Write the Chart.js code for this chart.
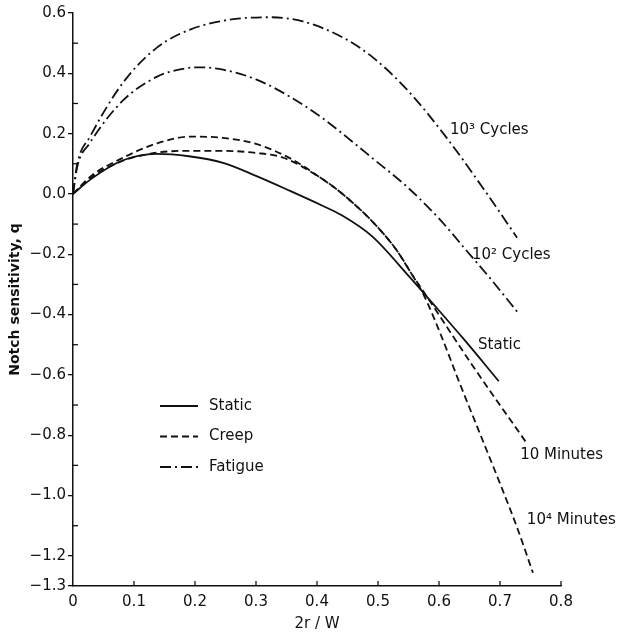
<!DOCTYPE html>
<html><head><meta charset="utf-8">
<script src="https://cdn.jsdelivr.net/npm/chart.js@4/dist/chart.umd.min.js"></script>
<style>html,body{margin:0;padding:0;background:#fff}</style>
</head><body>
<canvas id="c" width="619" height="636"></canvas>
<script>
// ---- data (x = 2r/W, y = notch sensitivity q) ----
const staticX  = [0, 0.03, 0.08, 0.137, 0.19, 0.246, 0.30, 0.356, 0.41, 0.44, 0.49, 0.552, 0.585, 0.64, 0.698];
const staticY  = [0, 0.05, 0.11, 0.133, 0.125, 0.103, 0.06, 0.01, -0.04, -0.07, -0.14, -0.276, -0.352, -0.48, -0.621];

const creep10X = [0, 0.03, 0.082, 0.138, 0.192, 0.246, 0.30, 0.345, 0.41, 0.44, 0.49, 0.53, 0.555, 0.58, 0.656, 0.744];
const creep10Y = [0, 0.055, 0.11, 0.137, 0.143, 0.143, 0.136, 0.12, 0.048, 0.003, -0.09, -0.185, -0.265, -0.34, -0.572, -0.827];

const creep1e4X = [0, 0.03, 0.082, 0.138, 0.192, 0.246, 0.30, 0.356, 0.41, 0.44, 0.49, 0.53, 0.555, 0.575, 0.602, 0.634, 0.667, 0.70, 0.728, 0.754];
const creep1e4Y = [0, 0.06, 0.12, 0.168, 0.19, 0.186, 0.166, 0.118, 0.048, 0.003, -0.09, -0.185, -0.265, -0.335, -0.462, -0.628, -0.794, -0.96, -1.106, -1.256];

const fat1e3X = [0, 0.007, 0.028, 0.082, 0.138, 0.192, 0.257, 0.323, 0.377, 0.443, 0.492, 0.548, 0.613, 0.672, 0.728];
const fat1e3Y = [0, 0.10, 0.19, 0.369, 0.486, 0.545, 0.578, 0.586, 0.572, 0.518, 0.452, 0.345, 0.185, 0.02, -0.145];

const fat1e2X = [0, 0.007, 0.028, 0.082, 0.138, 0.18, 0.208, 0.246, 0.30, 0.356, 0.41, 0.46, 0.49, 0.548, 0.602, 0.646, 0.684, 0.73];
const fat1e2Y = [0, 0.09, 0.17, 0.31, 0.389, 0.415, 0.42, 0.412, 0.38, 0.322, 0.25, 0.17, 0.12, 0.023, -0.086, -0.19, -0.28, -0.395];

const xTicks = [0, 0.1, 0.2, 0.3, 0.4, 0.5, 0.6, 0.7, 0.8];
const yTicks = [-1.3, -1.2, -1.0, -0.8, -0.6, -0.4, -0.2, 0.0, 0.2, 0.4, 0.6];
const yMinorTicks = [-1.1, -0.9, -0.7, -0.5, -0.3, -0.1, 0.1, 0.3, 0.5];

const curveLabels = [
  {text: '10\u00B3 Cycles',  x: 0.618, y: 0.213},
  {text: '10\u00B2 Cycles',  x: 0.654, y: -0.203},
  {text: 'Static',           x: 0.664, y: -0.502},
  {text: '10 Minutes',       x: 0.733, y: -0.867},
  {text: '10\u2074 Minutes', x: 0.744, y: -1.083}
];
const legendNames = ['Static', 'Creep', 'Fatigue'];

// ---- styles ----
const INK = '#111';
const FONT = '"DejaVu Sans", sans-serif';
const SOLID = [], DASH = [7, 4], DASHDOT = [11, 4, 2, 4];
const legendDashes = [SOLID, DASH, DASHDOT];

function pts(xs, ys) { return xs.map((x, i) => ({x: x, y: ys[i]})); }
function ds(label, xs, ys, dash) {
  return {label, data: pts(xs, ys), borderColor: INK, borderWidth: 1.8, borderDash: dash,
          pointRadius: 0, fill: false, cubicInterpolationMode: 'monotone'};
}

const extras = {
  id: 'extras',
  afterDraw(chart) {
    const ctx = chart.ctx, xs = chart.scales.x, ys = chart.scales.y;
    ctx.save();
    ctx.strokeStyle = INK; ctx.lineWidth = 1.3; ctx.setLineDash([]);
    const ax = chart.chartArea.left;
    yMinorTicks.forEach(v => {
      const py = ys.getPixelForValue(v);
      ctx.beginPath(); ctx.moveTo(ax, py); ctx.lineTo(ax + 5, py); ctx.stroke();
    });
    const ay = chart.chartArea.bottom;
    xTicks.forEach(v => {
      if (v === 0) return;
      const px = xs.getPixelForValue(v);
      ctx.beginPath(); ctx.moveTo(px, ay); ctx.lineTo(px, ay - 5); ctx.stroke();
    });
    ctx.fillStyle = INK; ctx.font = '15px ' + FONT;
    ctx.textAlign = 'left'; ctx.textBaseline = 'middle';
    curveLabels.forEach(l => {
      ctx.fillText(l.text, xs.getPixelForValue(l.x), ys.getPixelForValue(l.y));
    });
    const lx = chart.chartArea.left + 87, ly = chart.chartArea.top + 393, gap = 30.5;
    legendNames.forEach((name, i) => {
      const y = ly + i * gap;
      ctx.setLineDash(legendDashes[i]); ctx.lineWidth = 1.8;
      ctx.beginPath(); ctx.moveTo(lx, y); ctx.lineTo(lx + 38, y); ctx.stroke();
      ctx.setLineDash([]);
      ctx.fillText(name, lx + 49, y);
    });
    ctx.restore();
  }
};

new Chart(document.getElementById('c'), {
  type: 'line',
  data: {
    datasets: [
      ds('Static', staticX, staticY, SOLID),
      ds('Creep 10 Minutes', creep10X, creep10Y, DASH),
      ds('Creep 10\u2074 Minutes', creep1e4X, creep1e4Y, DASH),
      ds('Fatigue 10\u00B3 Cycles', fat1e3X, fat1e3Y, DASHDOT),
      ds('Fatigue 10\u00B2 Cycles', fat1e2X, fat1e2Y, DASHDOT)
    ]
  },
  options: {
    responsive: false, animation: false,
    layout: {padding: {top: 13, right: 58, bottom: 0, left: 0}},
    plugins: {legend: {display: false}, tooltip: {enabled: false}},
    scales: {
      x: {
        type: 'linear', min: 0, max: 0.8,
        afterBuildTicks: s => { s.ticks = xTicks.map(v => ({value: v})); },
        afterFit: s => { s.height = 50; },
        grid: {drawOnChartArea: false, drawTicks: false},
        border: {display: true, color: INK, width: 1.5},
        ticks: {padding: 7, color: INK, font: {family: FONT, size: 15},
                callback: v => v === 0 ? '0' : v.toFixed(1)},
        title: {display: true, text: '2r / W', color: INK, font: {family: FONT, size: 15},
                padding: {top: 4, bottom: 3}}
      },
      y: {
        type: 'linear', min: -1.3, max: 0.6,
        afterBuildTicks: s => { s.ticks = yTicks.map(v => ({value: v})); },
        afterFit: s => { s.width = 73; },
        grid: {drawOnChartArea: false, drawTicks: true, tickLength: 5, color: INK, lineWidth: 1.3},
        border: {display: true, color: INK, width: 1.5},
        ticks: {padding: 2, color: INK, font: {family: FONT, size: 15},
                callback: v => (v < 0 ? '\u2212' : '') + Math.abs(v).toFixed(1)},
        title: {display: true, text: 'Notch sensitivity, q', color: INK,
                font: {family: FONT, size: 14, weight: 'bold'}, padding: {top: 7, bottom: 0}}
      }
    }
  },
  plugins: [extras]
});
</script>
</body></html>
